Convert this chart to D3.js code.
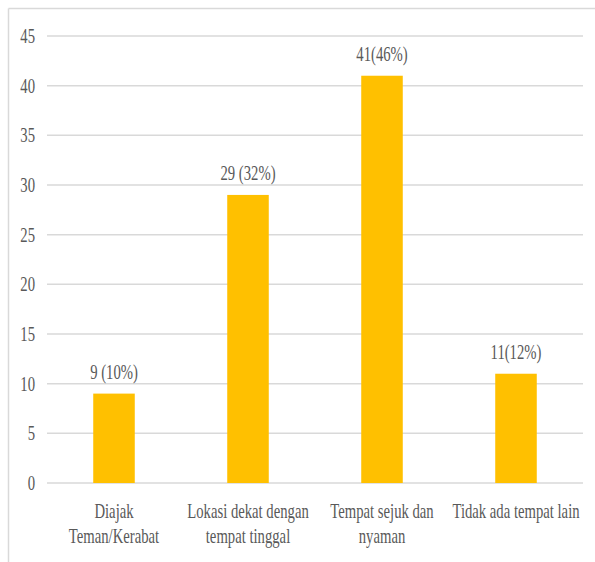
<!DOCTYPE html>
<html>
<head>
<meta charset="utf-8">
<script src="https://cdn.jsdelivr.net/npm/d3@7"></script>
<style>
  html, body { margin: 0; padding: 0; background: #fff; }
  svg { display: block; }
  text { font-family: "Liberation Serif", "Times New Roman", serif; fill: #595959; }
</style>
</head>
<body>
<svg id="chart" width="595" height="562"></svg>
<script>
// Reasons for choosing the location (respondent counts and shares)
const categories = [
  ["Diajak", "Teman/Kerabat"],
  ["Lokasi dekat dengan", "tempat tinggal"],
  ["Tempat sejuk dan", "nyaman"],
  ["Tidak ada tempat lain"]
];
const counts = [9, 29, 41, 11];
const valueLabels = ["9 (10%)", "29 (32%)", "41(46%)", "11(12%)"];
const yTicks = [0, 5, 10, 15, 20, 25, 30, 35, 40, 45];

const W = 595, H = 562;
const margin = { left: 47, right: 12, top: 36, bottom: 79 };
const fontSize = 21, squeeze = 0.7;

const svg = d3.select("#chart");

// outer frame (top and left edges)
svg.append("line").attr("x1", 8.5).attr("x2", W).attr("y1", 8.5).attr("y2", 8.5)
  .attr("stroke", "#d9d9d9").attr("stroke-width", 1.5);
svg.append("line").attr("x1", 8.5).attr("x2", 8.5).attr("y1", 8.5).attr("y2", H)
  .attr("stroke", "#d9d9d9").attr("stroke-width", 1.5);

const x = d3.scaleBand()
  .domain(d3.range(categories.length))
  .range([margin.left, W - margin.right])
  .paddingInner(0.69).paddingOuter(0.345);

const y = d3.scaleLinear().domain([0, 45]).range([H - margin.bottom, margin.top]);

// condensed serif text helper
function label(g, px, py, str, anchor, baseline) {
  g.append("text")
    .attr("transform", `translate(${px},${py}) scale(${squeeze},1)`)
    .attr("text-anchor", anchor)
    .attr("dominant-baseline", baseline || "auto")
    .attr("font-size", fontSize)
    .text(str);
}

// horizontal gridlines
const grid = svg.append("g");
yTicks.forEach(t => {
  grid.append("line")
    .attr("x1", margin.left).attr("x2", W - margin.right)
    .attr("y1", y(t)).attr("y2", y(t))
    .attr("stroke", "#d9d9d9").attr("stroke-width", 1.5);
});

// y tick labels
const yl = svg.append("g");
yTicks.forEach(t => label(yl, 35, y(t) + 7, String(t), "end"));

// bars
svg.append("g").selectAll("rect")
  .data(counts)
  .join("rect")
  .attr("x", (d, i) => x(i))
  .attr("width", x.bandwidth())
  .attr("y", d => y(d))
  .attr("height", d => y(0) - y(d))
  .attr("fill", "#ffc000");

// value labels above bars
const vl = svg.append("g");
counts.forEach((d, i) => label(vl, x(i) + x.bandwidth() / 2, y(d) - 15, valueLabels[i], "middle"));

// category labels
const cl = svg.append("g");
categories.forEach((lines, i) => {
  lines.forEach((s, j) => label(cl, x(i) + x.bandwidth() / 2, 518 + j * 25, s, "middle"));
});
</script>
</body>
</html>
